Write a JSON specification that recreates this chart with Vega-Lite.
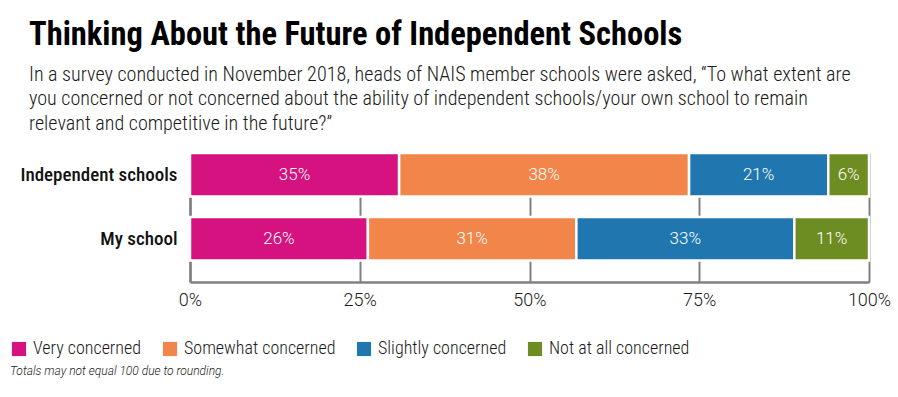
{
  "$schema": "https://vega.github.io/schema/vega-lite/v6.json",
  "width": 679,
  "height": 129,
  "autosize": {"type": "none"},
  "padding": {"left": 190, "top": 153, "right": 29, "bottom": 115},
  "background": "white",
  "title": {
    "text": "Thinking About the Future of Independent Schools",
    "subtitle": [
      "In a survey conducted in November 2018, heads of NAIS member schools were asked, “To what extent are",
      "you concerned or not concerned about the ability of independent schools/your own school to remain",
      "relevant and competitive in the future?”"
    ],
    "anchor": "start",
    "frame": "group",
    "dx": -161,
    "offset": 18,
    "font": "Roboto Condensed",
    "fontSize": 32.5,
    "fontWeight": "bold",
    "color": "#000000",
    "subtitleFont": "Roboto Condensed",
    "subtitleFontSize": 20.1,
    "subtitleFontWeight": 300,
    "subtitleColor": "#1a1a1a",
    "subtitleLineHeight": 24.5,
    "subtitlePadding": 13
  },
  "data": {
    "values": [
      {"group": "Independent schools", "category": "Very concerned", "rank": 1, "value": 30.8, "label": "35%"},
      {"group": "Independent schools", "category": "Somewhat concerned", "rank": 2, "value": 42.7, "label": "38%"},
      {"group": "Independent schools", "category": "Slightly concerned", "rank": 3, "value": 20.5, "label": "21%"},
      {"group": "Independent schools", "category": "Not at all concerned", "rank": 4, "value": 6.0, "label": "6%"},
      {"group": "My school", "category": "Very concerned", "rank": 1, "value": 26.2, "label": "26%"},
      {"group": "My school", "category": "Somewhat concerned", "rank": 2, "value": 30.7, "label": "31%"},
      {"group": "My school", "category": "Slightly concerned", "rank": 3, "value": 32.1, "label": "33%"},
      {"group": "My school", "category": "Not at all concerned", "rank": 4, "value": 11.0, "label": "11%"}
    ]
  },
  "encoding": {
    "y": {
      "field": "group",
      "type": "nominal",
      "sort": ["Independent schools", "My school"],
      "scale": {"paddingInner": 0.32, "paddingOuter": 0.168, "align": 0},
      "axis": {
        "title": null,
        "ticks": false,
        "labelFont": "Roboto Condensed",
        "labelFontSize": 19,
        "labelFontWeight": 500,
        "labelColor": "#111111",
        "labelPadding": 13,
        "labelLimit": 300,
        "domainColor": "#808080",
        "domainWidth": 2.5
      }
    }
  },
  "layer": [
    {
      "mark": {"type": "bar", "stroke": "white", "strokeWidth": 2.5},
      "encoding": {
        "x": {
          "field": "value",
          "type": "quantitative",
          "stack": "zero",
          "scale": {"domain": [0, 100], "nice": false},
          "axis": {
            "values": [0, 25, 50, 75, 100],
            "labelExpr": "datum.value + '%'",
            "title": null,
            "ticks": false,
            "grid": true,
            "gridColor": "#808080",
            "gridWidth": 2,
            "domainColor": "#808080",
            "domainWidth": 2.5,
            "labelFont": "Roboto",
            "labelFontSize": 18,
            "labelFontWeight": 300,
            "labelColor": "#1a1a1a",
            "labelPadding": 9,
            "labelFlush": false
          }
        },
        "color": {
          "field": "category",
          "type": "nominal",
          "sort": ["Very concerned", "Somewhat concerned", "Slightly concerned", "Not at all concerned"],
          "scale": {
            "domain": ["Very concerned", "Somewhat concerned", "Slightly concerned", "Not at all concerned"],
            "range": ["#D5127F", "#F2854A", "#2077B0", "#6D8C21"]
          },
          "legend": {
            "orient": "none",
            "legendX": -180,
            "legendY": 187,
            "direction": "horizontal",
            "title": "Totals may not equal 100 due to rounding.",
            "titleOrient": "bottom",
            "titleAnchor": "start",
            "titleFont": "Roboto",
            "titleFontSize": 12,
            "titleFontStyle": "italic",
            "titleFontWeight": 300,
            "titleColor": "#222222",
            "titlePadding": 8,
            "titleLimit": 500,
            "symbolType": "square",
            "symbolSize": 200,
            "symbolStrokeWidth": 0,
            "labelFont": "Roboto Condensed",
            "labelFontSize": 18,
            "labelFontWeight": 300,
            "labelColor": "#1a1a1a",
            "labelOffset": 5,
            "labelLimit": 300,
            "columnPadding": 19
          }
        },
        "order": {"field": "rank", "type": "quantitative"}
      }
    },
    {
      "mark": {"type": "text", "color": "white", "font": "Roboto", "fontWeight": 300, "fontSize": 17},
      "encoding": {
        "x": {"field": "value", "type": "quantitative", "stack": "zero", "bandPosition": 0.5},
        "detail": {"field": "category", "type": "nominal"},
        "order": {"field": "rank", "type": "quantitative"},
        "text": {"field": "label", "type": "nominal"}
      }
    }
  ],
  "config": {
    "view": {"stroke": null}
  }
}
